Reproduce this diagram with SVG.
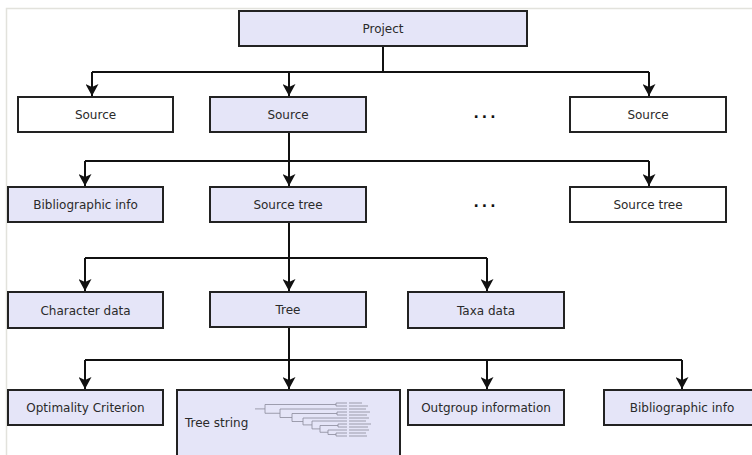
<svg xmlns="http://www.w3.org/2000/svg" width="752" height="455" viewBox="0 0 752 455">
  <style>
    .box { stroke: #222; stroke-width: 2; }
    .lav { fill: #e5e5f8; }
    .wht { fill: #ffffff; }
    .lbl { font-family: "DejaVu Sans", "Liberation Sans", sans-serif; font-size: 12px; fill: #2a2a2a; text-anchor: middle; }
    .dots { font-family: "DejaVu Sans", "Liberation Sans", sans-serif; font-size: 14px; font-weight: bold; fill: #111; text-anchor: middle; letter-spacing: 3px; }
    .edge { fill: none; stroke: #111; stroke-width: 2; }
    .arr { marker-end: url(#ah); }
    .tr { fill: none; stroke: #8a8a9a; stroke-width: 0.8; }
    .tl { fill: none; stroke: #b4b4c4; stroke-width: 1.6; }
  </style>
  <defs>
    <marker id="ah" viewBox="0 0 13 13" refX="12" refY="6.5" markerWidth="13" markerHeight="13" markerUnits="userSpaceOnUse" orient="auto">
      <path d="M0,0 L12,6.5 L0,13 L3,6.5 Z" fill="#111"/>
    </marker>
  </defs>
  <rect width="752" height="455" fill="#ffffff"/>
  <path d="M6.5,455 V8.5 H752" fill="none" stroke="#e2e2dc" stroke-width="1.5"/>

  <g id="connectors">
    <path class="edge" d="M383,46 V72 M92,72 H649"/>
    <path class="edge arr" d="M92,72 V96"/>
    <path class="edge arr" d="M289,72 V96"/>
    <path class="edge arr" d="M649,72 V96"/>
    <path class="edge" d="M289,132 V161 M85,161 H649"/>
    <path class="edge arr" d="M85,161 V186"/>
    <path class="edge arr" d="M289,161 V186"/>
    <path class="edge arr" d="M649,161 V186"/>
    <path class="edge" d="M289,222 V258 M85,258 H487"/>
    <path class="edge arr" d="M85,258 V291"/>
    <path class="edge arr" d="M289,258 V291"/>
    <path class="edge arr" d="M487,258 V291"/>
    <path class="edge" d="M289,327 V360 M85,360 H682"/>
    <path class="edge arr" d="M85,360 V389"/>
    <path class="edge arr" d="M289,360 V389"/>
    <path class="edge arr" d="M487,360 V389"/>
    <path class="edge arr" d="M682,360 V389"/>
  </g>

  <g id="project"><rect class="box lav" x="239" y="11" width="288" height="35"/><text class="lbl" x="383" y="33">Project</text></g>
  <g id="source1"><rect class="box wht" x="18" y="97" width="155" height="35"/><text class="lbl" x="95.5" y="119">Source</text></g>
  <g id="source2"><rect class="box lav" x="210" y="97" width="156" height="35"/><text class="lbl" x="288" y="119">Source</text></g>
  <g id="dots1"><text class="dots" x="486" y="118">...</text></g>
  <g id="source3"><rect class="box wht" x="570" y="97" width="156" height="35"/><text class="lbl" x="648" y="119">Source</text></g>

  <g id="biblio1"><rect class="box lav" x="8" y="187" width="155" height="35"/><text class="lbl" x="85.5" y="209">Bibliographic info</text></g>
  <g id="sourcetree1"><rect class="box lav" x="210" y="187" width="156" height="35"/><text class="lbl" x="288" y="209">Source tree</text></g>
  <g id="dots2"><text class="dots" x="486" y="207">...</text></g>
  <g id="sourcetree2"><rect class="box wht" x="570" y="187" width="156" height="35"/><text class="lbl" x="648" y="209">Source tree</text></g>

  <g id="chardata"><rect class="box lav" x="8" y="292" width="155" height="36"/><text class="lbl" x="85.5" y="315">Character data</text></g>
  <g id="tree"><rect class="box lav" x="210" y="292" width="156" height="35"/><text class="lbl" x="288" y="314">Tree</text></g>
  <g id="taxadata"><rect class="box lav" x="408" y="292" width="156" height="36"/><text class="lbl" x="486" y="315">Taxa data</text></g>

  <g id="optimality"><rect class="box lav" x="8" y="390" width="155" height="35"/><text class="lbl" x="85.5" y="412">Optimality Criterion</text></g>
  <g id="treestring">
    <rect class="box lav" x="177" y="390" width="223" height="80"/>
    <text class="lbl" x="185" y="427" style="text-anchor:start">Tree string</text>
    <path class="tr" d="M255,408.9 H265 M265,404.5 V413.25 M265,404.5 H336 M265,413.25 H280
      M336,403 V406 M336,403 H347 M336,406 H347
      M280,409 V417.5 M280,409 H347 M280,417.5 H292
      M292,413.5 V421.5 M292,413.5 H337 M292,421.5 H303
      M337,412 V415 M337,412 H347 M337,415 H347
      M303,418 V424.9 M303,418 H347 M303,424.9 H312
      M312,421 V428.9 M312,421 H347 M312,428.9 H320
      M320,425.5 V432.25 M320,425.5 H338 M320,432.25 H328
      M338,424 V427 M338,424 H347 M338,427 H347
      M328,430 V434.5 M328,430 H347 M328,434.5 H336
      M336,433 V436 M336,433 H347 M336,436 H347"/>
    <path class="tl" d="M349,403 H362 M349,406 H368 M349,409 H366 M349,412 H370 M349,415 H367 M349,418 H369 M349,421 H366 M349,424 H371 M349,427 H368 M349,430 H369 M349,433 H366 M349,436 H367"/>
  </g>
  <g id="outgroup"><rect class="box lav" x="408" y="390" width="156" height="35"/><text class="lbl" x="486" y="412">Outgroup information</text></g>
  <g id="biblio2"><rect class="box lav" x="604" y="390" width="156" height="35"/><text class="lbl" x="682" y="412">Bibliographic info</text></g>
</svg>
